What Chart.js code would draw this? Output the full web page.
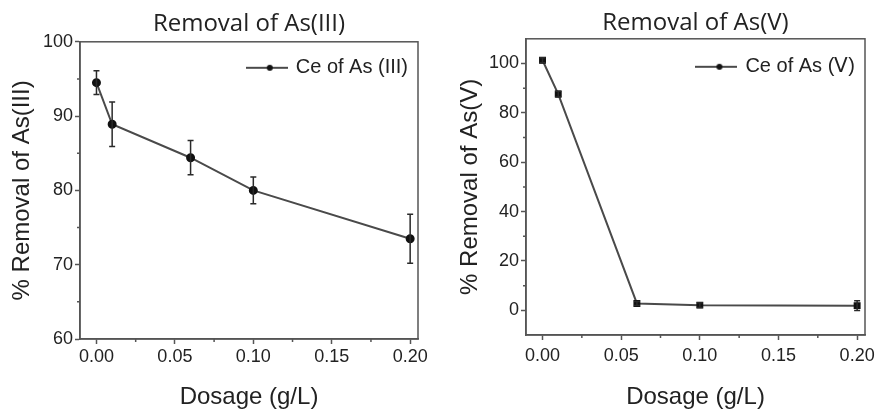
<!DOCTYPE html>
<html lang="en">
<head>
<meta charset="UTF-8">
<title>Removal of As(III) and As(V)</title>
<script src="https://cdn.jsdelivr.net/npm/chart.js"></script>
<style>
  html, body { margin: 0; padding: 0; background: #fff; overflow: hidden; }
  #wrap { position: relative; width: 876px; height: 415px; overflow: hidden; }
  .panel { position: absolute; top: 0; height: 415px; }
</style>
</head>
<body>
<div id="wrap">
  <div class="panel" style="left:0;width:438px"><canvas id="chartAs3" width="438" height="415"></canvas></div>
  <div class="panel" style="left:438px;width:446px"><canvas id="chartAs5" width="446" height="415"></canvas></div>
</div>
<script>
// data
const dosage = [0, 0.01, 0.06, 0.10, 0.20];
const removalAs3 = [94.5, 88.9, 84.4, 80.0, 73.5];
const errorAs3 = [1.6, 3.0, 2.3, 1.8, 3.3];
const removalAs5 = [101.3, 87.6, 2.8, 2.1, 1.9];
const errorAs5 = [1.0, 1.2, 0.8, 1.0, 2.0];

// ticks
const xTicks = [0, 0.05, 0.10, 0.15, 0.20];
const xMinorTicks = [0.025, 0.075, 0.125, 0.175];
const yTicksAs3 = [60, 70, 80, 90, 100];
const yMinorAs3 = [65, 75, 85, 95];
const yTicksAs5 = [0, 20, 40, 60, 80, 100];
const yMinorAs5 = [10, 30, 50, 70, 90];

const AXIS = '#555';
const TEXT = '#222';
const LINE = '#4a4a4a';
const SANS = "'Liberation Sans', Arial, sans-serif";

// little line-with-dot picture for the legend
function legendSymbol() {
  const c = document.createElement('canvas');
  c.width = 42; c.height = 8;
  const g = c.getContext('2d');
  g.strokeStyle = LINE; g.lineWidth = 2;
  g.beginPath(); g.moveTo(0, 4); g.lineTo(42, 4); g.stroke();
  g.fillStyle = '#111';
  g.beginPath(); g.arc(24, 4, 3, 0, Math.PI * 2); g.fill();
  return c;
}

// error bars, minor ticks, the closed frame and the legend placement
const extras = {
  id: 'extras',
  afterLayout(chart, args, opts) {
    // move the in-plot legend to the top right corner
    const lg = chart.legend, a = chart.chartArea;
    if (!lg) return;
    const w = lg.width, h = lg.height;
    lg.left = a.right - w - opts.legendRight;
    lg.right = lg.left + w;
    lg.top = a.top + opts.legendTop;
    lg.bottom = lg.top + h;
  },
  afterDatasetsDraw(chart) {
    const { ctx, scales: { x, y } } = chart;
    const ds = chart.data.datasets[0];
    ctx.save();
    ctx.strokeStyle = '#2a2a2a';
    ctx.lineWidth = 1.5;
    ds.data.forEach((p, i) => {
      const e = ds.errorBars[i];
      const px = x.getPixelForValue(p.x);
      const top = y.getPixelForValue(p.y + e);
      const bot = y.getPixelForValue(p.y - e);
      ctx.beginPath();
      ctx.moveTo(px, top); ctx.lineTo(px, bot);
      ctx.moveTo(px - 3, top); ctx.lineTo(px + 3, top);
      ctx.moveTo(px - 3, bot); ctx.lineTo(px + 3, bot);
      ctx.stroke();
    });
    ctx.restore();
  },
  afterDraw(chart, args, opts) {
    const { ctx, chartArea: a, scales: { x, y } } = chart;
    ctx.save();
    ctx.strokeStyle = AXIS;
    ctx.lineWidth = 1.5;
    ctx.strokeRect(a.left, a.top, a.right - a.left, a.bottom - a.top);
    ctx.beginPath();
    opts.xMinor.forEach(v => {
      const px = x.getPixelForValue(v);
      ctx.moveTo(px, a.bottom); ctx.lineTo(px, a.bottom + 3);
    });
    opts.yMinor.forEach(v => {
      const py = y.getPixelForValue(v);
      ctx.moveTo(a.left - 3, py); ctx.lineTo(a.left, py);
    });
    ctx.stroke();
    ctx.restore();
  }
};

function makeChart(id, cfg) {
  const points = dosage.map((d, i) => ({ x: d, y: cfg.values[i] }));
  return new Chart(document.getElementById(id), {
    type: 'line',
    data: {
      datasets: [{
        label: cfg.legend,
        data: points,
        errorBars: cfg.errors,
        borderColor: LINE,
        borderWidth: 2,
        pointRadius: 3.5,
        pointStyle: cfg.pointStyle,
        pointBackgroundColor: '#111',
        pointBorderColor: '#111',
        tension: 0
      }]
    },
    options: {
      responsive: false,
      animation: false,
      layout: { padding: cfg.padding },
      plugins: {
        title: {
          display: true,
          fullSize: false,
          text: cfg.title,
          color: TEXT,
          font: { family: "'Open Sans', sans-serif", size: 24, weight: 'normal' },
          padding: cfg.titlePadding
        },
        legend: {
          position: 'chartArea',
          align: 'start',
          labels: {
            usePointStyle: true,
            pointStyle: legendSymbol(),
            pointStyleWidth: 38,
            color: TEXT,
            padding: 10,
            font: { family: SANS, size: 20 }
          }
        },
        tooltip: { enabled: false },
        extras: { xMinor: xMinorTicks, yMinor: cfg.yMinor, legendRight: 0, legendTop: cfg.legendTop }
      },
      scales: {
        x: {
          type: 'linear',
          min: -0.0105,
          max: 0.205,
          afterBuildTicks: axis => { axis.ticks = xTicks.map(v => ({ value: v })); },
          afterFit: axis => { axis.height = cfg.xHeight; },
          border: { display: true, color: AXIS, width: 1.5 },
          grid: { display: true, drawOnChartArea: false, tickLength: 5, tickColor: AXIS, tickWidth: 1.5 },
          ticks: {
            color: TEXT, padding: cfg.xTickPad, maxRotation: 0, autoSkip: false,
            font: { family: SANS, size: 18 },
            callback: v => Number(v).toFixed(2)
          },
          title: {
            display: true, text: 'Dosage (g/L)', color: TEXT,
            font: { family: SANS, size: 24 },
            padding: { top: 0, bottom: 3 }
          }
        },
        y: {
          min: cfg.yMin,
          max: cfg.yMax,
          afterBuildTicks: axis => { axis.ticks = cfg.yTicks.map(v => ({ value: v })); },
          afterFit: axis => { axis.width = cfg.yWidth; },
          border: { display: true, color: AXIS, width: 1.5 },
          grid: { display: true, drawOnChartArea: false, tickLength: 5, tickColor: AXIS, tickWidth: 1.5 },
          ticks: { color: TEXT, padding: 2, font: { family: SANS, size: 18 } },
          title: {
            display: true, text: cfg.yTitle, color: TEXT,
            font: { family: SANS, size: 24 },
            padding: { top: cfg.yTitleOffset, bottom: 0 }
          }
        }
      }
    },
    plugins: [extras]
  });
}

makeChart('chartAs3', {
  title: 'Removal of As(III)',
  legend: 'Ce of As (III)',
  yTitle: '% Removal of As(III)',
  values: removalAs3,
  errors: errorAs3,
  pointStyle: 'circle',
  yMin: 60, yMax: 100,
  yTicks: yTicksAs3, yMinor: yMinorAs3,
  padding: { left: 0, right: 20, top: 0, bottom: 0 },
  titlePadding: { top: 10, bottom: 3 },
  yWidth: 80, xHeight: 76, yTitleOffset: 8, xTickPad: 2, legendTop: 6
});

makeChart('chartAs5', {
  title: 'Removal of As(V)',
  legend: 'Ce of As (\u2164)',
  yTitle: '% Removal of As(V)',
  values: removalAs5,
  errors: errorAs5,
  pointStyle: 'rect',
  yMin: -10, yMax: 110,
  yTicks: yTicksAs5, yMinor: yMinorAs5,
  padding: { left: 0, right: 19, top: 0, bottom: 0 },
  titlePadding: { top: 9, bottom: 1 },
  yWidth: 88, xHeight: 80, yTitleOffset: 18, xTickPad: 5, legendTop: 8
});
</script>
</body>
</html>
